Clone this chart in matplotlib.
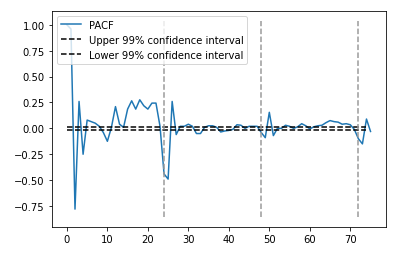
import numpy as np
import matplotlib
matplotlib.use('Agg')
import matplotlib.pyplot as plt

# partial autocorrelation, lags 0..75
pacf = [1.00, 0.96, -0.78, 0.26, -0.25, 0.08, 0.065, 0.05, 0.02, -0.04,
        -0.125, 0.01, 0.21, 0.04, 0.01, 0.186, 0.266, 0.186, 0.276, 0.218,
        0.186, 0.244, 0.244, 0.02, -0.44, -0.49, 0.26, -0.06, 0.02, 0.02,
        0.04, 0.02, -0.05, -0.05, 0.01, 0.025, 0.025, 0.01, -0.035, -0.025,
        -0.02, -0.01, 0.035, 0.03, 0.0, 0.02, 0.02, 0.02, -0.04, -0.09,
        0.155, -0.07, 0.0, 0.0, 0.03, 0.02, 0.0, 0.015, 0.045, 0.025,
        -0.005, 0.015, 0.025, 0.03, 0.055, 0.075, 0.065, 0.06, 0.04, 0.045,
        0.035, -0.01, -0.10, -0.15, 0.09, -0.03]
lags = np.arange(len(pacf))
conf = 0.016
season_lags = [24, 48, 72]
vmin, vmax = -0.86, 1.04

fig = plt.figure(figsize=(5.5, 3.54), dpi=72)
plt.subplots_adjust(left=0.1306, right=0.974, top=0.954, bottom=0.105)
plt.plot(lags, pacf, color='#1f77b4', label='PACF')
# confidence bands stop one lag short of the pacf line
plt.plot(lags[:-1], [conf]*(len(lags)-1), 'k--', label='Upper 99% confidence interval')
plt.plot(lags[:-1], [-conf]*(len(lags)-1), 'k--', label='Lower 99% confidence interval')
for s in season_lags:
    plt.vlines(s, vmin, vmax, colors='#999999', linestyles='dashed')
plt.legend(loc='upper left')
plt.savefig('out.png', dpi=72)
